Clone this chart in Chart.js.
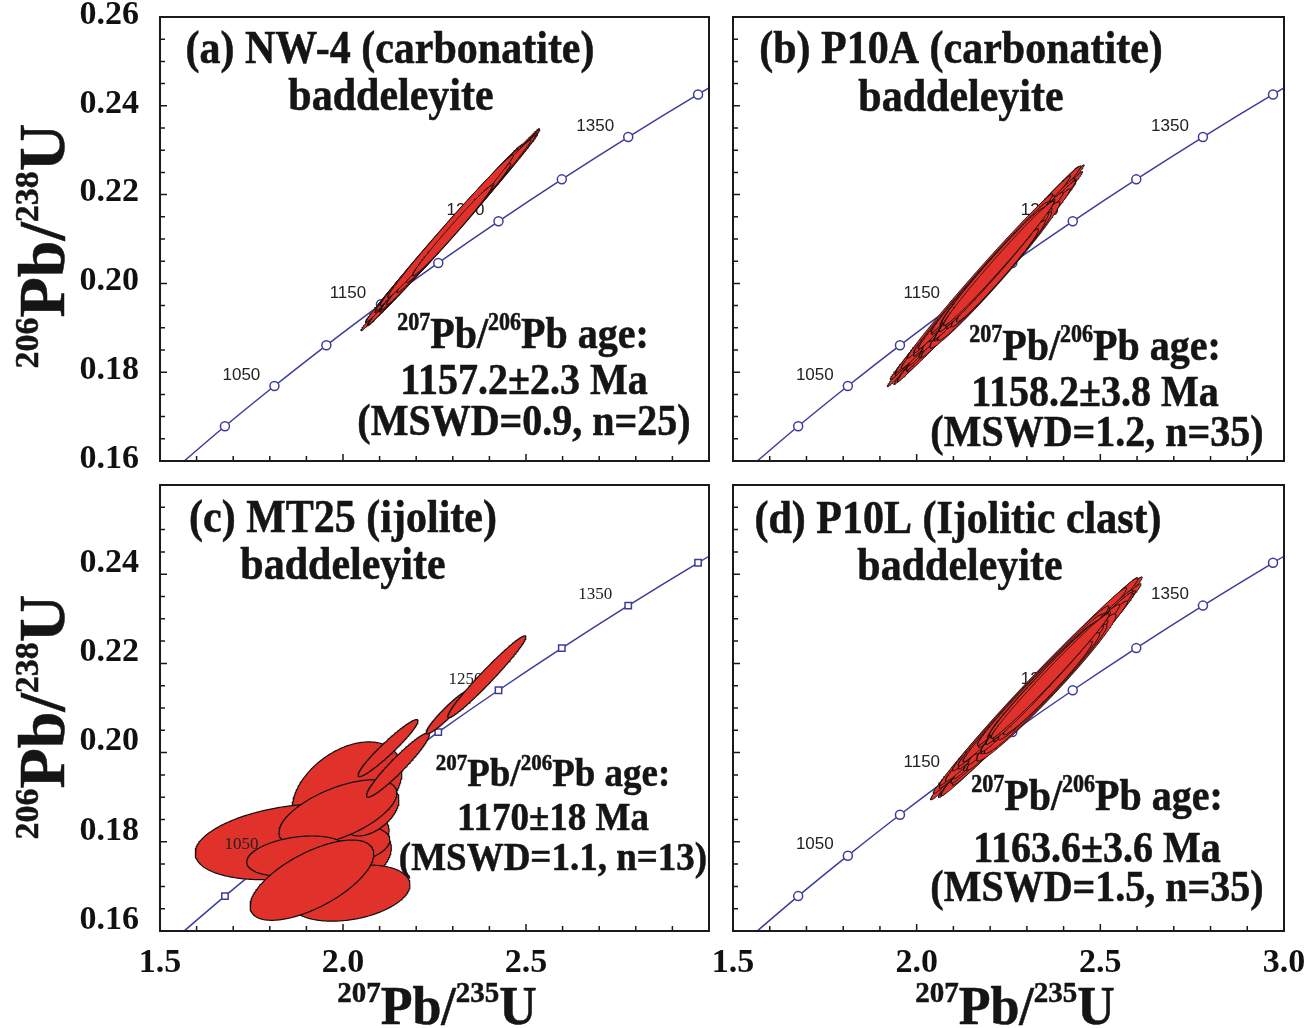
<!DOCTYPE html>
<html>
<head>
<meta charset="utf-8">
<script src="https://cdn.jsdelivr.net/npm/chart.js@4/dist/chart.umd.min.js"></script>
<style>
  body { margin: 0; background: #fff; }
  canvas { position: absolute; }
</style>
</head>
<body>
<canvas id="pa" width="720" height="475" style="left:0;top:0"></canvas>
<canvas id="pb" width="604" height="475" style="left:700px;top:0"></canvas>
<canvas id="pc" width="720" height="553" style="left:0;top:475px"></canvas>
<canvas id="pd" width="604" height="553" style="left:700px;top:475px"></canvas>
<script>
// axis ticks
var xTicks = [1.5, 2.0, 2.5, 3.0];
var yTicks = [0.16, 0.18, 0.20, 0.22, 0.24, 0.26];

// concordia, every 50 Ma
var concAge = [950, 1000, 1050, 1100, 1150, 1200, 1250, 1300, 1350, 1400, 1450];
var concX = [1.5488, 1.6774, 1.8126, 1.9545, 2.1037, 2.2603, 2.4249, 2.5978, 2.7793, 2.9701, 3.1705];
var concY = [0.15878, 0.16782, 0.17689, 0.18606, 0.19529, 0.20460, 0.21398, 0.22343, 0.23296, 0.24256, 0.25224];
var concLabels = [1050, 1150, 1250, 1350];

// (a) NW-4 : 207Pb/235U, 2s, 206Pb/238U, 2s, rho
var aX = [2.293,2.294,2.302,2.272,2.312,2.285,2.300,2.277,2.306,2.271,2.313,2.298,2.288,2.288,2.293,2.301,2.279,2.309,2.288,2.286,2.284,2.303,2.293,2.294,2.299];
var aSX = [0.244,0.227,0.236,0.210,0.220,0.195,0.231,0.215,0.202,0.184,0.213,0.173,0.199,0.162,0.188,0.151,0.178,0.205,0.140,0.167,0.131,0.156,0.120,0.172,0.109];
var aY = [0.2121,0.2116,0.2126,0.2109,0.2131,0.2119,0.2123,0.2113,0.2128,0.2106,0.2134,0.2118,0.2124,0.2111,0.2127,0.2120,0.2115,0.2132,0.2122,0.2108,0.2117,0.2125,0.2114,0.2129,0.2119];
var aSY = [0.0228,0.0212,0.0221,0.0196,0.0206,0.0182,0.0216,0.0201,0.0189,0.0172,0.0199,0.0162,0.0186,0.0151,0.0176,0.0141,0.0166,0.0192,0.0131,0.0156,0.0122,0.0146,0.0112,0.0161,0.0102];
var aRho = [0.998,0.998,0.998,0.9975,0.9975,0.997,0.998,0.997,0.997,0.996,0.997,0.996,0.997,0.995,0.996,0.994,0.995,0.997,0.993,0.995,0.992,0.994,0.99,0.995,0.99];

// (b) P10A
var bX = [2.188,2.195,2.185,2.191,2.194,2.204,2.181,2.190,2.204,2.167,2.219,2.173,2.215,2.178,2.206,2.213,2.174,2.206,2.208,2.170,2.212,2.191,2.193,2.220,2.173,2.222,2.184,2.194,2.220,2.171,2.218,2.179,2.207,2.180,2.223];
var bSX = [0.268,0.257,0.257,0.244,0.253,0.230,0.238,0.219,0.227,0.209,0.214,0.198,0.203,0.187,0.193,0.177,0.182,0.171,0.161,0.166,0.155,0.150,0.144,0.139,0.134,0.128,0.123,0.118,0.112,0.107,0.128,0.118,0.139,0.102,0.150];
var bY = [0.2017,0.2012,0.2023,0.2006,0.2029,0.2015,0.2021,0.2009,0.2026,0.2003,0.2032,0.2017,0.2023,0.2011,0.2026,0.2019,0.2013,0.2029,0.2020,0.2007,0.2016,0.2025,0.2010,0.2028,0.2014,0.2022,0.2008,0.2031,0.2018,0.2005,0.2035,0.2001,0.2040,0.1998,0.2045];
var bSY = [0.0250,0.0240,0.0240,0.0228,0.0236,0.0215,0.0222,0.0205,0.0212,0.0195,0.0200,0.0185,0.0190,0.0175,0.0180,0.0165,0.0170,0.0160,0.0150,0.0155,0.0145,0.0140,0.0135,0.0130,0.0125,0.0120,0.0115,0.0110,0.0105,0.0100,0.0120,0.0110,0.0130,0.0095,0.0140];
var bRho = [0.998,0.998,0.997,0.997,0.997,0.996,0.997,0.996,0.997,0.995,0.996,0.995,0.994,0.995,0.994,0.985,0.994,0.994,0.993,0.994,0.985,0.992,0.993,0.99,0.993,0.985,0.99,0.99,0.985,0.99,0.99,0.99,0.99,0.988,0.99];

// (c) MT25
var cX = [2.011,1.861,2.055,2.005,2.079,1.986,1.874,2.019,1.915,2.123,2.150,2.287,2.393];
var cSX = [0.150,0.265,0.077,0.123,0.074,0.161,0.137,0.164,0.169,0.082,0.086,0.060,0.107];
var cY = [0.1916,0.1800,0.1764,0.1791,0.1867,0.1865,0.1768,0.1685,0.1714,0.2010,0.1972,0.2091,0.2170];
var cSY = [0.0108,0.0085,0.0056,0.0045,0.0054,0.0074,0.0045,0.0063,0.0090,0.0064,0.0072,0.0049,0.0092];
var cRho = [0.40,0.30,0.40,0.30,0.50,0.60,0.30,0.30,0.65,0.955,0.95,0.95,0.975];

// (d) P10L
var dX = [2.326,2.335,2.323,2.331,2.332,2.344,2.317,2.329,2.344,2.302,2.357,2.310,2.355,2.314,2.346,2.353,2.309,2.344,2.348,2.304,2.351,2.329,2.330,2.359,2.309,2.360,2.320,2.332,2.357,2.308,2.357,2.315,2.347,2.316,2.363];
var dSX = [0.288,0.276,0.278,0.265,0.271,0.247,0.255,0.236,0.244,0.224,0.230,0.213,0.219,0.201,0.207,0.190,0.196,0.184,0.173,0.178,0.167,0.161,0.155,0.150,0.144,0.138,0.132,0.127,0.121,0.115,0.138,0.127,0.150,0.109,0.161];
var dY = [0.2144,0.2139,0.2150,0.2133,0.2156,0.2142,0.2148,0.2136,0.2153,0.2130,0.2159,0.2144,0.2150,0.2138,0.2153,0.2146,0.2140,0.2156,0.2147,0.2134,0.2143,0.2152,0.2137,0.2155,0.2141,0.2149,0.2135,0.2158,0.2145,0.2132,0.2162,0.2128,0.2167,0.2125,0.2172];
var dSY = [0.0250,0.0240,0.0242,0.0230,0.0236,0.0215,0.0222,0.0205,0.0212,0.0195,0.0200,0.0185,0.0190,0.0175,0.0180,0.0165,0.0170,0.0160,0.0150,0.0155,0.0145,0.0140,0.0135,0.0130,0.0125,0.0120,0.0115,0.0110,0.0105,0.0100,0.0120,0.0110,0.0130,0.0095,0.0140];
var dRho = [0.996,0.996,0.996,0.995,0.995,0.994,0.995,0.994,0.995,0.993,0.994,0.993,0.992,0.993,0.992,0.98,0.992,0.992,0.99,0.992,0.98,0.99,0.99,0.99,0.99,0.98,0.99,0.99,0.98,0.988,0.99,0.988,0.99,0.985,0.99];

var serif = '"Liberation Serif", "Times New Roman", serif';
var sans = '"Liberation Sans", Arial, sans-serif';
Chart.defaults.font.family = serif;

var ellipseFill = 'rgb(224,50,42)';
var curveBlue = '#3c3c9c';

// 2-sigma error ellipse outline from the covariance (Cholesky form)
function ellipse(x, sx, y, sy, rho) {
  var pts = [];
  var k = Math.sqrt(1 - rho * rho);
  for (var i = 0; i <= 240; i++) {
    var t = i / 240 * 2 * Math.PI;
    pts.push({ x: x + sx * Math.cos(t), y: y + sy * (rho * Math.cos(t) + k * Math.sin(t)) });
  }
  return pts;
}

// "^207Pb/^206Pb" -> parts with superscripts
function parseRich(s) {
  return s.split(/(\^\d+)/).filter(function (p) { return p.length; }).map(function (p) {
    return p[0] === '^' ? { t: p.slice(1), sup: true } : { t: p, sup: false };
  });
}

// centred bold serif text with superscripts; stretch scales glyphs vertically
function drawRich(ctx, s, cx, base, size, supRatio, stretch) {
  var parts = parseRich(s);
  var supSize = Math.round(size * supRatio);
  var widths = parts.map(function (p) {
    ctx.font = 'bold ' + (p.sup ? supSize : size) + 'px ' + serif;
    return ctx.measureText(p.t).width;
  });
  var x = -widths.reduce(function (a, b) { return a + b; }, 0) / 2;
  ctx.save();
  ctx.translate(cx, base);
  ctx.scale(1, stretch);
  ctx.textAlign = 'left';
  ctx.textBaseline = 'alphabetic';
  ctx.strokeStyle = ctx.fillStyle;
  ctx.lineWidth = 0.5;
  parts.forEach(function (p, i) {
    ctx.font = 'bold ' + (p.sup ? supSize : size) + 'px ' + serif;
    var yy = p.sup ? -size * 0.4 : 0;
    ctx.fillText(p.t, x, yy);
    ctx.strokeText(p.t, x, yy);
    x += widths[i];
  });
  ctx.restore();
}

var panels = [
  { id: 'pa', left: 0, top: 0, pad: { top: 17, right: 11 }, yW: 160, xH: 14, showX: false, showY: true,
    e: [aX, aSX, aY, aSY, aRho], marker: 'circle', labelFont: sans, topLabels: [], lw: 0.9,
    texts: [
      ['(a) NW-4 (carbonatite)', 390, 63, 42], ['baddeleyite', 391, 110, 42],
      ['^207Pb/^206Pb age:', 523, 348, 40], ['1157.2\u00b12.3 Ma', 524, 394, 40], ['(MSWD=0.9, n=25)', 524, 435, 40]
    ], yTitle: [64, 246], yOff: -2 },
  { id: 'pb', left: 700, top: 0, pad: { top: 17, right: 20 }, yW: 33, xH: 14, showX: false, showY: false,
    e: [bX, bSX, bY, bSY, bRho], marker: 'circle', labelFont: sans, topLabels: [], lw: 0.9,
    texts: [
      ['(b) P10A (carbonatite)', 961, 63, 42], ['baddeleyite', 961, 111, 42],
      ['^207Pb/^206Pb age:', 1095, 360, 40], ['1158.2\u00b13.8 Ma', 1095, 406, 40], ['(MSWD=1.2, n=35)', 1097, 446, 40]
    ] },
  { id: 'pc', left: 0, top: 475, pad: { top: 10, right: 11 }, yW: 160, xH: 97, showX: true, showY: true,
    e: [cX, cSX, cY, cSY, cRho], marker: 'rect', labelFont: serif, topLabels: [1050], lw: 1.2,
    texts: [
      ['(c) MT25 (ijolite)', 343, 532, 42], ['baddeleyite', 343, 579, 42],
      ['^207Pb/^206Pb age:', 553, 786, 37], ['1170\u00b118 Ma', 553, 830, 37], ['(MSWD=1.1, n=13)', 553, 870, 37]
    ], yTitle: [64, 717], xTitle: [437, 1024], yOff: -11, hideY: [0.26], hideX: [3.0] },
  { id: 'pd', left: 700, top: 475, pad: { top: 10, right: 20 }, yW: 33, xH: 97, showX: true, showY: false,
    e: [dX, dSX, dY, dSY, dRho], marker: 'circle', labelFont: sans, topLabels: [], lw: 0.9,
    texts: [
      ['(d) P10L (Ijolitic clast)', 958, 533, 42], ['baddeleyite', 960, 580, 42],
      ['^207Pb/^206Pb age:', 1097, 810, 40], ['1163.6\u00b13.6 Ma', 1097, 862, 40], ['(MSWD=1.5, n=35)', 1097, 901, 40]
    ], xTitle: [1015, 1024] }
];

function ageLabels(chart, p, ages) {
  var ctx = chart.ctx, xs = chart.scales.x, ys = chart.scales.y;
  ctx.save();
  ctx.fillStyle = '#222';
  ctx.font = '17px ' + p.labelFont;
  ctx.textAlign = 'center';
  ctx.textBaseline = 'middle';
  ages.forEach(function (age) {
    var i = concAge.indexOf(age);
    ctx.fillText(String(age), xs.getPixelForValue(concX[i]) - 33, ys.getPixelForValue(concY[i]) - 11);
  });
  ctx.restore();
}

panels.forEach(function (p) {
  var datasets = [{
    data: concX.map(function (x, i) { return { x: x, y: concY[i] }; }),
    borderColor: curveBlue, borderWidth: 1.5,
    pointStyle: p.marker, pointRadius: 4.5, pointBackgroundColor: '#fff',
    pointBorderColor: curveBlue, pointBorderWidth: 1.5,
    cubicInterpolationMode: 'monotone', fill: false, order: 1000, clip: 0
  }];
  var e = p.e;
  e[0].forEach(function (x, i) {
    datasets.push({
      data: ellipse(x, e[1][i], e[2][i], e[3][i], e[4][i]),
      borderColor: '#111', borderWidth: p.lw, borderJoinStyle: 'round',
      backgroundColor: ellipseFill, fill: 'shape', pointRadius: 0, tension: 0,
      order: -i
    });
  });

  var decor = {
    id: 'decor',
    beforeDatasetsDraw: function (chart) {
      ageLabels(chart, p, concLabels.filter(function (a) { return p.topLabels.indexOf(a) < 0; }));
    },
    afterDatasetsDraw: function (chart) {
      ageLabels(chart, p, p.topLabels);
    },
    afterDraw: function (chart) {
      var ctx = chart.ctx, a = chart.chartArea, xs = chart.scales.x, ys = chart.scales.y;
      ctx.save();
      // inward ticks on the left and bottom edges
      ctx.strokeStyle = '#1a1a1a';
      ctx.lineWidth = 1.5;
      ctx.beginPath();
      for (var k = 1; k < 15; k++) {
        var px = xs.getPixelForValue(1.5 + k * 0.1);
        ctx.moveTo(px, a.bottom);
        ctx.lineTo(px, a.bottom - (k % 5 === 0 ? 7 : 5));
      }
      for (var j = 1; j < 20; j++) {
        var py = ys.getPixelForValue(0.16 + j * 0.005);
        ctx.moveTo(a.left, py);
        ctx.lineTo(a.left + (j % 4 === 0 ? 7 : 5), py);
      }
      ctx.stroke();
      ctx.lineWidth = 2;
      ctx.strokeRect(a.left, a.top, a.right - a.left, a.bottom - a.top);

      ctx.fillStyle = '#151515';
      p.texts.forEach(function (t) {
        drawRich(ctx, t[0], t[1] - p.left, t[2] - p.top, t[3], 0.56, 1.1);
      });
      if (p.xTitle) {
        drawRich(ctx, '^207Pb/^235U', p.xTitle[0] - p.left, p.xTitle[1] - p.top, 52, 0.56, 1.05);
      }
      if (p.yTitle) {
        ctx.save();
        ctx.translate(p.yTitle[0] - p.left, p.yTitle[1] - p.top);
        ctx.rotate(-Math.PI / 2);
        drawRich(ctx, '^206Pb/^238U', 0, 0, 66, 0.52, 1.0);
        ctx.restore();
      }
      ctx.restore();
    }
  };

  new Chart(document.getElementById(p.id), {
    type: 'line',
    data: { datasets: datasets },
    options: {
      responsive: false,
      animation: false,
      events: [],
      layout: { padding: { top: p.pad.top, right: p.pad.right, left: 0, bottom: 0 } },
      plugins: { legend: { display: false }, tooltip: { enabled: false } },
      scales: {
        x: {
          type: 'linear', min: 1.5, max: 3.0,
          grid: { display: false }, border: { display: false },
          afterBuildTicks: function (s) { s.ticks = xTicks.map(function (v) { return { value: v }; }); },
          ticks: {
            display: p.showX, padding: 4, color: '#111',
            font: { size: 34, weight: 'bold' },
            callback: function (v) { return (p.hideX || []).indexOf(v) >= 0 ? '' : v.toFixed(1); }
          },
          afterFit: function (s) { s.height = p.xH; s.paddingLeft = 0; s.paddingRight = 0; }
        },
        y: {
          type: 'linear', min: 0.16, max: 0.26,
          grid: { display: false }, border: { display: false },
          afterBuildTicks: function (s) { s.ticks = yTicks.map(function (v) { return { value: v }; }); },
          ticks: {
            display: p.showY, padding: 13, color: '#111', labelOffset: p.yOff || 0,
            font: { size: 34, weight: 'bold' },
            callback: function (v) { return (p.hideY || []).some(function (h) { return Math.abs(h - v) < 1e-9; }) ? '' : v.toFixed(2); }
          },
          afterFit: function (s) { s.width = p.yW; s.paddingTop = 0; s.paddingBottom = 0; }
        }
      }
    },
    plugins: [decor]
  });
});
</script>
</body>
</html>
